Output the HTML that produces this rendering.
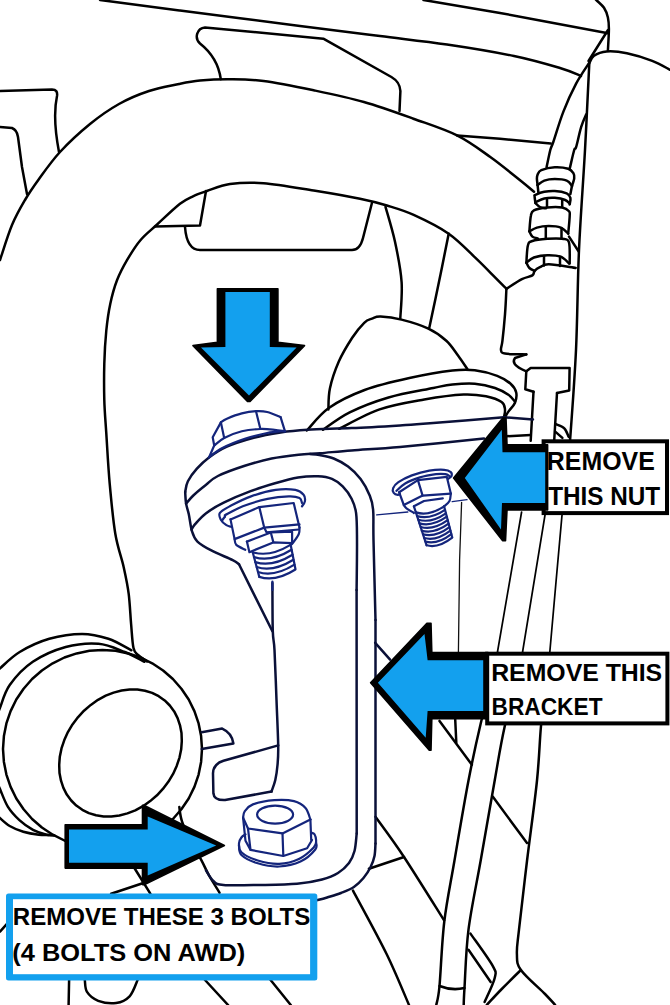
<!DOCTYPE html>
<html><head><meta charset="utf-8"><title>Bracket removal</title>
<style>
html,body{margin:0;padding:0;background:#fff;}
body{width:670px;height:1005px;overflow:hidden;position:relative;font-family:"Liberation Sans",sans-serif;}
svg{display:block;position:absolute;left:0;top:0;}
text{font-family:"Liberation Sans",sans-serif;font-weight:bold;fill:#000;}
</style></head><body>
<svg width="670" height="1005" viewBox="0 0 670 1005">
<rect width="670" height="1005" fill="#fff"/>
<g fill="none" stroke="#000" stroke-width="2.5" stroke-linecap="round" stroke-linejoin="round">
<path d="M100.0,0.0C113.3,1.8 146.7,6.2 180.0,10.5C213.3,14.8 266.7,21.8 300.0,26.0C333.3,30.2 355.5,32.9 380.0,36.0C404.5,39.1 424.7,41.2 447.0,44.5C469.3,47.8 495.2,52.1 514.0,56.0C532.8,59.9 548.8,64.7 560.0,68.0C571.2,71.3 577.5,74.7 581.0,76.0"/>
<path d="M423.5,0.0L500.0,12.9L540.0,20.4L608.0,33.2"/>
<path d="M590.0,-6.0C591.0,-5.0 594.0,-2.3 596.3,0.0C598.6,2.3 602.1,4.9 604.0,7.8C605.9,10.7 607.1,14.0 607.9,17.5C608.7,21.0 608.9,23.5 608.9,29.0C608.9,34.5 608.1,46.8 607.9,50.4"/>
<path d="M608.0,30.0L588.5,61.0"/>
<path d="M589.3,63.4C590.1,62.1 591.1,57.8 594.0,55.8C596.9,53.8 601.1,51.9 606.6,51.5C612.1,51.1 619.3,51.7 626.9,53.3C634.5,54.9 645.0,58.1 652.2,60.9C659.4,63.6 667.0,68.3 670.0,69.8"/>
<path d="M589.3,63.4C588.6,77.8 586.7,118.9 585.0,150.0C583.3,181.1 580.5,216.7 579.0,250.0C577.5,283.3 577.5,318.2 576.0,350.0C574.5,381.8 571.6,419.3 570.0,441.0C568.4,462.7 567.1,473.5 566.5,480.0"/>
<path d="M545.5,690.0C544.8,696.0 542.4,710.9 541.0,726.0C539.6,741.1 539.3,758.0 537.0,780.5C534.7,803.0 530.0,836.1 527.0,861.0C524.0,885.9 520.7,914.1 519.0,929.6C517.3,945.1 516.6,947.1 516.9,953.8C517.2,960.5 516.2,963.3 520.9,970.0C525.6,976.7 539.3,988.2 545.0,994.0C550.7,999.8 553.5,1003.2 555.2,1005.0"/>
<path d="M520.9,970.0C517.5,973.3 506.5,984.2 500.8,990.0C495.1,995.8 489.1,1002.5 486.7,1005.0"/>
<path d="M546.6,167.2C547.2,164.3 549.2,154.2 550.3,150.0C551.4,145.8 551.1,148.4 553.3,142.0C555.5,135.6 559.6,121.3 563.4,111.6C567.2,101.9 571.9,91.7 576.1,83.7C580.3,75.7 586.7,66.8 588.8,63.4"/>
<path d="M569.7,168.7C570.5,165.6 573.1,153.6 574.2,150.0C575.3,146.4 574.9,151.0 576.1,147.2C577.3,143.3 579.5,132.4 581.2,126.9C582.9,121.4 585.4,116.3 586.3,114.2"/>
<path d="M457.0,135.4L500.0,138.8L550.7,143.4"/>
<path d="M220.8,79.2C219,66 212,53 200,43.5C194,38 197,28 205,27.4L323.3,38.7L391.4,77Q400,82 400.4,91L399.5,111"/>
<path d="M0.0,260.0C2.0,254.2 7.8,235.0 12.0,225.0C16.2,215.0 20.5,207.7 25.0,200.0C29.5,192.3 33.2,187.0 39.0,179.0C44.8,171.0 51.5,161.2 60.0,152.0C68.5,142.8 80.2,132.0 90.0,124.0C99.8,116.0 109.2,109.5 119.0,104.0C128.8,98.5 139.0,94.3 149.0,91.0C159.0,87.7 170.5,85.8 179.0,84.0C187.5,82.2 191.5,81.3 200.0,80.5C208.5,79.7 219.4,79.1 230.0,79.2C240.6,79.3 249.7,79.2 263.6,81.0C277.6,82.8 297.0,86.8 313.7,90.3C330.4,93.8 347.3,97.3 363.9,102.0C380.5,106.7 397.9,113.1 413.4,118.7C428.9,124.3 444.2,129.0 457.0,135.4C469.8,141.8 479.7,149.5 490.3,157.0C500.9,164.5 513.1,174.7 520.4,180.5C527.7,186.3 531.7,189.9 534.0,191.8"/>
<path d="M147.0,661.5C145.5,660.4 140.2,657.2 138.0,655.0C135.8,652.8 134.7,653.2 133.5,648.0C132.3,642.8 131.9,633.0 131.1,624.0C130.3,615.0 129.9,603.4 128.7,593.9C127.5,584.4 125.9,577.2 123.7,567.2C121.5,557.2 117.6,547.6 115.3,533.7C113.0,519.8 111.2,500.3 109.7,483.6C108.2,466.9 107.2,447.3 106.3,433.4C105.4,419.5 104.6,411.6 104.3,400.0C104.0,388.4 104.0,375.5 104.3,363.9C104.6,352.3 105.3,340.5 106.3,330.5C107.3,320.5 108.5,312.1 110.3,303.7C112.1,295.3 114.2,287.6 117.0,280.3C119.8,273.1 123.1,266.9 127.0,260.2C130.9,253.5 135.4,246.1 140.4,240.2C145.4,234.2 150.5,230.6 157.1,224.5C163.7,218.4 174.0,208.5 180.0,203.8C186.0,199.1 188.5,198.4 193.0,196.3C197.5,194.2 200.8,193.1 207.0,191.0C213.2,188.9 220.6,185.3 230.0,184.0C239.4,182.7 249.7,182.1 263.6,183.2C277.6,184.3 297.6,188.0 313.7,190.6C329.8,193.2 347.8,196.3 360.0,198.8C372.2,201.3 377.9,202.8 386.9,205.5C395.8,208.2 403.4,210.2 413.7,214.9C424.0,219.6 438.4,226.5 448.7,233.7C459.0,240.9 467.9,250.7 475.5,257.9C483.1,265.1 489.2,271.5 494.3,276.7C499.4,281.9 504.4,286.8 506.4,288.8"/>
<path d="M0,91L52,89.5Q58,89.5 57,96C54,110 55,131 59,152"/>
<path d="M0,127L12,128Q17,130 18,137L22,167L27,194"/>
<path d="M206,191L200,225.5L155,226.5"/>
<path d="M185,227C186,240 190,250 200,250L352,250Q360,250 363,238L372,202.8"/>
<path d="M385.5,206.9C387.1,212.7 392.3,229.3 395.0,241.8C397.7,254.3 400.7,269.2 401.6,282.0C402.5,294.8 400.5,312.3 400.3,318.4"/>
<path d="M448.7,233.7C447.4,240.4 443.8,258.3 440.6,274.0C437.4,289.7 431.2,318.8 429.3,327.8"/>
<path d="M537.6,185.1C537.5,184.0 536.9,180.2 536.9,178.4C536.9,176.7 536.9,176.0 537.6,174.6C538.3,173.2 538.4,171.3 541.3,170.1C544.2,168.9 550.3,167.4 554.8,167.2C559.3,167.0 565.1,167.7 568.2,168.7C571.3,169.7 572.4,171.5 573.4,173.1C574.4,174.7 574.4,176.3 574.2,178.4C574.0,180.5 572.4,184.6 572.0,185.8"/>
<path d="M537.6,185.1C538.7,184.3 541.4,181.6 544.3,180.6C547.2,179.6 551.1,179.1 554.8,179.1C558.5,179.1 563.8,179.5 566.7,180.6C569.6,181.7 571.1,184.9 572.0,185.8"/>
<path d="M537.6,185.1L538.4,192.5"/>
<path d="M572.0,185.8L570.4,194.0"/>
<path d="M535.4,203.0C535.3,201.9 534.6,197.7 534.6,196.3C534.6,194.9 533.8,195.6 535.4,194.8C537.0,194.1 541.1,192.4 544.3,191.8C547.5,191.2 551.1,190.8 554.8,191.0C558.5,191.2 564.1,192.2 566.7,193.3C569.3,194.4 569.9,195.9 570.4,197.8C570.9,199.7 569.8,203.4 569.7,204.5"/>
<path d="M535.4,202.2C536.9,201.6 541.1,199.2 544.3,198.5C547.5,197.8 551.3,197.6 554.8,197.8C558.3,198.1 562.7,199.0 565.2,200.0C567.7,201.0 569.0,203.1 569.7,203.7"/>
<path d="M535.4,203.0C536.2,203.7 538.2,206.1 540.0,207.0C541.8,207.9 545.0,208.1 546.0,208.3"/>
<path d="M547,199.5 L547,207 M562.2,200 L562.2,207"/>
<path d="M529.4,231.3C529.6,228.7 530.1,219.2 530.9,215.7C531.6,212.2 531.2,211.8 533.9,210.4C536.6,209.0 542.6,208.0 547.3,207.5C552.0,207.0 558.6,206.9 562.2,207.5C565.8,208.1 567.8,209.8 569.0,211.2C570.2,212.6 569.8,212.0 569.7,215.7C569.6,219.4 568.5,230.6 568.2,233.6"/>
<path d="M529.4,231.3C530.6,230.7 533.7,228.5 536.9,227.6C540.1,226.7 544.8,226.1 548.8,226.1C552.8,226.1 557.5,226.3 560.7,227.6C563.9,228.8 567.0,232.6 568.2,233.6"/>
<path d="M529.4,231.3C529.9,232.2 531.0,235.4 532.4,236.6C533.8,237.8 537.1,238.3 538.0,238.6"/>
<path d="M545.8,227 L545.8,238.5 M561.5,228 L561.5,238.5"/>
<path d="M526.4,262.7C526.6,259.8 526.9,249.1 527.9,245.5C528.9,241.9 529.2,242.1 532.4,241.0C535.6,239.9 542.3,239.2 547.3,238.8C552.3,238.4 558.6,238.2 562.2,238.8C565.8,239.4 567.8,238.4 569.0,242.5C570.2,246.6 569.6,259.9 569.7,263.4"/>
<path d="M526.4,262.7C527.6,261.8 530.4,258.8 533.9,257.5C537.4,256.2 542.8,255.3 547.3,255.2C551.8,255.1 557.1,255.3 560.7,256.7C564.3,258.1 567.6,262.3 569.0,263.4"/>
<path d="M526.4,262.7C526.9,263.6 528.0,266.6 529.4,268.0C530.8,269.4 533.7,270.4 534.6,270.9"/>
<path d="M544,256 L544,265.5 M560,257 L560,266"/>
<path d="M569.0,236.6L578.7,251.5"/>
<path d="M506.4,288.8C509.0,287.2 517.6,281.3 521.9,279.1C526.2,276.9 530.3,276.8 532.4,275.4C534.5,274.0 533.4,272.3 534.6,270.9C535.9,269.5 537.5,268.3 539.9,267.2C542.3,266.1 542.8,264.1 548.8,264.2C554.8,264.3 571.2,267.3 575.7,267.9"/>
<path d="M506.4,288.8C506.2,293.1 505.7,305.6 505.0,314.3C504.3,323.0 503.1,335.2 502.4,341.2C501.7,347.1 500.6,347.9 501.0,350.0C501.4,352.1 500.8,352.9 505.0,353.6C509.2,354.3 522.8,354.3 526.3,354.4"/>
<path d="M526.3,354.4 L515,358 C512,362 514,366 526.3,371.3"/>
<path d="M526.3,371.3 L530.7,368 L569.6,368 L569.2,390.5 L557,393"/>
<path d="M526.3,371.3 L525.3,389.2 L533.5,391.8"/>
<path d="M533.5,391.8L530.7,440.7"/>
<path d="M557.0,393.0L554.2,440.7"/>
<path d="M328.4,409.4C328.6,405.9 328.2,396.5 329.9,388.5C331.6,380.5 335.1,370.1 338.8,361.6C342.5,353.2 348.0,344.3 352.2,337.8C356.4,331.3 360.9,326.0 364.2,322.8C367.5,319.6 369.3,319.6 372.0,318.6C374.7,317.6 375.7,316.4 380.6,316.6C385.5,316.8 393.5,317.6 401.5,319.6C409.5,321.6 420.9,325.1 428.4,328.6C435.9,332.1 441.3,336.2 446.3,340.7C451.3,345.2 454.6,350.9 458.2,355.7C461.8,360.5 466.0,367.2 467.6,369.5"/>
<path d="M306.9,430.5C310.5,426.8 319.2,414.8 328.8,408.0C338.4,401.2 351.2,395.0 364.6,390.0C378.0,385.0 394.8,381.2 409.4,378.0C424.0,374.8 441.5,371.8 452.4,370.5C463.3,369.2 467.3,369.3 474.8,370.2C482.3,371.1 491.2,373.6 497.2,375.8C503.2,378.1 507.4,380.9 510.6,383.7C513.8,386.5 515.5,389.4 516.2,392.6C516.9,395.8 516.3,399.5 515.0,402.7C513.7,405.9 510.1,409.2 508.4,411.6C506.7,414.0 505.6,416.3 505.0,417.2"/>
<path d="M323.0,429.8C327.4,426.9 338.8,417.8 349.7,412.4C360.6,407.0 374.6,401.6 388.5,397.5C402.4,393.4 422.7,390.2 433.3,388.0C443.9,385.8 445.5,385.2 452.4,384.5C459.3,383.8 467.7,383.1 474.8,383.7C481.9,384.3 489.4,386.1 495.0,388.0C500.6,389.9 505.1,392.5 508.4,394.8C511.7,397.1 513.9,400.5 515.0,401.6"/>
<path d="M339.0,428.8C345.8,425.6 365.4,414.3 379.6,409.4C393.8,404.5 410.3,402.0 424.3,399.5C438.3,397.0 453.3,395.0 463.6,394.5C473.9,394.0 479.7,395.1 486.0,396.3C492.3,397.6 498.4,399.8 501.6,402.0C504.8,404.2 504.6,406.9 505.0,409.4C505.4,411.9 504.2,415.9 504.0,417.2"/>
<path d="M555.4,424.0C556.9,424.7 562.1,426.2 564.3,428.4C566.5,430.6 568.0,435.6 568.8,437.0"/>
<path d="M506.0,436.3L530.7,435.0"/>
<path d="M555.2,431.6L562.4,437.9"/>
<path d="M-3.0,672.0C-2.5,671.4 -3.8,671.7 0.0,668.4C3.8,665.1 11.5,656.9 19.7,652.0C27.9,647.1 38.9,641.8 49.3,638.8C59.7,635.8 72.2,633.9 82.1,633.9C91.9,633.9 100.2,636.1 108.4,638.8C116.6,641.5 127.6,648.4 131.4,650.3"/>
<path d="M-3.0,716.0C-2.5,714.6 -2.1,713.0 0.0,707.8C2.1,702.6 4.4,692.5 9.9,684.8C15.4,677.1 23.5,668.1 32.8,661.8C42.1,655.5 54.8,650.0 65.7,647.0C76.7,644.0 88.7,642.9 98.5,643.7C108.3,644.5 117.1,649.0 124.8,652.0C132.5,655.0 141.2,660.2 144.5,661.8"/>
<path d="M-3.0,782.0C-2.5,783.2 -1.8,785.0 0.0,789.1C1.8,793.2 4.6,801.4 7.8,806.6C11.0,811.8 15.2,816.2 19.4,820.1C23.6,824.0 28.5,827.4 33.0,829.8C37.5,832.2 43.1,833.8 46.6,834.7C50.1,835.7 53.0,835.4 54.3,835.5"/>
<path d="M-3.0,815.0C-2.5,815.5 -2.1,816.4 0.0,818.2C2.1,820.0 5.8,823.7 9.7,826.0C13.6,828.3 18.5,830.3 23.3,831.8C28.1,833.2 34.6,834.2 38.8,834.7C43.0,835.2 46.9,835.0 48.5,835.0"/>
<path d="M202.0,749.0L201.1,761.9L198.6,774.6L194.4,786.9L188.7,798.5L181.4,809.3L172.9,819.0L163.1,827.5L152.2,834.7L140.6,840.5L128.3,844.6L115.5,847.2L102.5,848.0L89.5,847.2L76.7,844.6L64.4,840.5L52.8,834.7L41.9,827.5L32.1,819.0L23.6,809.3L16.3,798.5L10.6,786.9L6.4,774.6L3.9,761.9L3.0,749.0L3.9,736.1L6.4,723.4L10.6,711.1L16.3,699.5L23.6,688.7L32.1,679.0L41.9,670.5L52.7,663.3L64.4,657.5L76.7,653.4L89.5,650.8L102.5,650.0L115.5,650.8L128.3,653.4L140.6,657.5L152.2,663.3L163.1,670.5L172.9,679.0L181.4,688.7L188.7,699.5L194.4,711.1L198.6,723.4L201.1,736.1L202.0,749.0Z"/>
<path d="M163.1,788.7L157.0,795.3L150.2,801.1L143.0,806.2L135.3,810.3L127.4,813.4L119.4,815.5L111.4,816.5L103.6,816.4L96.0,815.3L88.9,813.1L82.3,809.8L76.3,805.6L71.2,800.5L66.8,794.6L63.4,787.9L61.0,780.7L59.5,773.0L59.2,764.9L59.8,756.7L61.5,748.4L64.3,740.1L67.9,732.1L72.5,724.4L77.9,717.3L84.0,710.7L90.8,704.9L98.0,699.8L105.7,695.7L113.6,692.6L121.6,690.5L129.6,689.5L137.4,689.6L145.0,690.7L152.1,692.9L158.7,696.2L164.7,700.4L169.8,705.5L174.2,711.4L177.6,718.1L180.0,725.3L181.5,733.0L181.8,741.1L181.2,749.3L179.5,757.6L176.7,765.9L173.1,773.9L168.5,781.6L163.1,788.7Z"/>
<path d="M111.1,893.8L143.4,883.0"/>
<path d="M134.4,868.0L150.5,893.8"/>
<path d="M179.3,806.9C179.7,809.3 180.1,815.7 181.9,821.2C183.7,826.7 186.7,833.4 190.0,840.0C193.3,846.6 198.5,854.8 201.6,860.6C204.7,866.4 205.8,869.6 208.8,875.0C211.8,880.4 217.8,889.8 219.6,892.8"/>
<path d="M69.1,980.0L68.6,1005.0"/>
<path d="M84.8,980.0C85.2,982.0 84.8,988.4 87.0,991.9C89.2,995.4 93.4,998.9 98.2,1000.8C103.0,1002.6 110.9,1003.8 116.1,1003.0C121.3,1002.2 126.0,1000.1 129.6,996.3C133.2,992.5 136.3,982.7 137.6,980.0"/>
<path d="M0.0,931.6L6.7,924.2"/>
<path d="M375.5,816.8C380.2,823.5 392.6,839.7 404.0,857.0C415.4,874.3 437.4,909.8 444.1,920.4"/>
<path d="M404.0,857.0L368.9,868.7"/>
<path d="M353.0,890.6C358.6,901.2 377.3,934.9 386.6,954.0C395.9,973.1 405.3,996.5 409.0,1005.0"/>
<path d="M270.6,980.0L290.8,1005.0"/>
<path d="M205.0,980.0L228.1,1005.0"/>
<path d="M498.7,653.0C495.7,664.8 485.6,702.8 480.6,724.0C475.6,745.2 472.9,757.7 468.5,780.5C464.1,803.3 458.4,837.5 454.4,861.0C450.4,884.5 446.8,900.7 444.3,921.5C441.8,942.3 440.8,972.1 439.5,986.0C438.2,999.9 436.8,1001.8 436.3,1005.0"/>
<path d="M523.0,653.0C520.0,665.2 509.5,704.8 504.8,726.0C500.1,747.2 498.7,758.0 494.7,780.5C490.7,803.0 485.0,836.1 480.6,861.0C476.2,885.9 471.2,908.4 468.5,929.6C465.8,950.8 465.3,975.4 464.5,988.0C463.7,1000.6 463.8,1002.2 463.7,1005.0"/>
<path d="M439.5,986 Q452,991 464.5,988"/>
<path d="M492.7,796.6L527.0,843.0"/>
<path d="M439.5,720.9L471.9,764.8"/>
<path d="M455.2,719.0L456.3,742.5"/>
<path d="M470.5,933.6C474.2,939.0 488.7,958.5 492.7,965.9C496.7,973.3 496.0,972.0 494.7,978.0C493.4,984.0 486.3,998.0 484.6,1002.0"/>
<path d="M468.5,949.7L490.7,982.0"/>
<g stroke="#0a1038"><path d="M185.2,492.0C185.6,490.2 185.9,485.1 187.9,481.2C189.9,477.3 193.4,472.6 196.9,468.7C200.4,464.8 204.0,461.2 209.0,457.5C214.0,453.8 219.5,450.0 226.9,446.7C234.3,443.4 244.8,440.2 253.7,437.8C262.6,435.4 271.6,433.8 280.6,432.4C289.6,431.0 295.7,430.4 307.5,429.7C319.3,429.0 336.2,428.8 351.6,428.1C367.0,427.4 386.9,426.2 400.0,425.4C413.1,424.6 412.7,424.7 430.0,423.3C447.3,421.9 491.7,418.2 504.0,417.2"/><path d="M504.0,417.2L533.0,419.5"/><path d="M186.1,503.6C187.3,502.2 190.0,498.6 193.3,495.5C196.6,492.4 201.7,488.2 205.8,485.0C209.9,481.8 211.4,479.2 217.9,476.0C224.4,472.8 235.9,468.7 244.8,465.8C253.8,462.9 262.7,460.4 271.6,458.6C280.6,456.8 290.4,455.7 298.5,454.8C306.6,453.9 311.1,453.9 320.0,453.2C328.9,452.5 338.3,451.4 351.6,450.4C364.9,449.3 377.9,448.9 400.0,446.9C422.1,444.9 470.0,439.9 484.0,438.5"/><path d="M310.0,454.0C311.6,454.2 315.4,454.2 319.4,455.0C323.3,455.8 328.9,456.6 333.7,458.5C338.5,460.4 343.6,463.2 348.1,466.6C352.6,470.0 357.0,474.3 360.6,479.1C364.2,483.9 367.5,490.1 369.6,495.2C371.7,500.3 372.5,502.1 373.1,509.6C373.8,517.1 373.1,521.6 373.5,540.0C373.9,558.4 375.2,606.7 375.5,620.0"/><path d="M185.2,492.0C185.3,493.9 185.5,499.9 186.1,503.6C186.7,507.3 187.8,509.7 188.8,514.2C189.8,518.8 190.5,526.4 191.9,530.9C193.3,535.4 193.9,538.0 197.2,541.3C200.5,544.6 205.9,547.6 211.8,550.7C217.7,553.8 228.2,557.8 232.7,560.1C237.2,562.4 237.9,563.6 239.0,564.3"/><path d="M239.0,564.3L253.6,593.6L272.4,631.2"/><path d="M191.5,529.6C192.1,528.7 192.7,526.9 195.1,524.2C197.5,521.5 201.0,517.0 205.8,513.4C210.6,509.8 216.2,506.4 223.7,502.7C231.2,499.0 242.0,494.4 250.6,491.2C259.1,488.0 267.1,485.6 275.0,483.3C282.9,481.0 290.8,478.7 298.0,477.5C305.2,476.3 312.3,476.0 318.0,476.2C323.7,476.4 327.9,477.1 332.0,478.8C336.1,480.5 339.4,483.0 342.7,486.3C346.0,489.6 349.4,494.3 351.6,498.8C353.8,503.3 355.2,506.2 356.1,513.1C357.0,520.0 356.9,527.2 357.0,540.0C357.1,552.8 356.7,581.7 356.6,590.0"/><path d="M375.5,620.0L375.5,843.6"/><path d="M356.6,590.0L356.7,833.6"/><path d="M356.7,833.6C356.3,836.5 355.8,846.1 354.5,851.0C353.2,855.9 351.8,859.3 349.0,863.0C346.2,866.7 342.5,870.2 338.0,873.0C333.5,875.8 328.8,877.7 322.0,879.5C315.2,881.3 307.3,882.9 297.0,883.8C286.7,884.7 272.2,884.8 260.0,885.0C247.8,885.2 231.3,885.7 223.5,885.0C215.7,884.3 216.3,883.5 213.4,881.0C210.5,878.5 207.2,872.1 206.0,870.3"/><path d="M375.5,843.6C375.3,845.7 375.3,852.1 374.5,856.0C373.7,859.9 372.4,863.3 370.6,867.0C368.8,870.7 366.3,874.7 363.5,878.0C360.7,881.3 357.6,884.5 353.9,887.0C350.1,889.5 345.5,891.2 341.0,893.0C336.5,894.8 331.3,896.2 327.1,897.5C322.9,898.8 317.9,900.0 316.0,900.5"/><path d="M278.2,745.4 L223.5,760.8 Q213.2,764 213,773.4 L213.4,793.4 Q214,800.5 225.1,800.1 L271.5,791.5"/><path d="M272.4,583.0C272.5,591.0 272.4,620.0 272.8,631.2C273.2,642.4 273.9,638.5 274.5,650.0C275.1,661.5 275.9,684.1 276.5,700.0C277.1,715.9 278.0,734.6 278.2,745.4C278.4,756.2 278.0,759.2 277.5,765.0C277.0,770.8 276.3,775.6 275.3,780.0C274.3,784.4 272.1,789.6 271.5,791.5"/><path d="M201.7,732.3 L222.2,728.6 Q232,733 233.4,743.5 L201.7,749"/><path d="M375.2,642.8L390.1,659.6"/></g>
<g stroke-width="1.7"><path d="M566.5,480.0C565.7,486.2 564.6,488.9 561.8,517.4C559.0,545.9 552.6,622.2 549.9,651.0C547.2,679.8 546.2,683.5 545.5,690.0"/><path d="M521.6,512.0L497.3,653.0"/><path d="M545.5,512.0L522.4,653.0"/></g>
</g>
<g fill="none" stroke="#14257c" stroke-width="2.2" stroke-linecap="round" stroke-linejoin="round">
<path d="M220.9,422.4C221.9,421.8 223.4,420.2 226.9,418.7C230.4,417.2 237.0,414.6 241.8,413.4C246.7,412.1 251.8,411.4 256.0,411.2C260.2,411.0 263.1,411.0 267.2,412.0C271.3,413.0 278.4,416.3 280.6,417.2"/>
<path d="M220.9,422.4L212.7,437.3L214.2,445.5"/>
<path d="M220.9,422.4L224.2,438.0"/>
<path d="M256.0,411.2L260.4,429.0"/>
<path d="M280.6,417.2L285.0,431.3"/>
<path d="M214.2,445.5C215.9,444.2 219.6,440.4 224.2,438.0C228.8,435.6 235.8,432.8 241.8,431.3C247.8,429.8 254.9,429.2 260.4,429.0C265.9,428.8 270.5,429.4 274.6,429.8C278.7,430.2 283.3,431.1 285.0,431.3"/>
<path d="M214.2,445.5L209.0,457.5"/>
<path d="M209.0,457.2C211.2,455.7 216.4,451.1 222.4,448.0C228.4,444.9 237.3,441.3 244.8,438.8C252.3,436.3 260.5,434.3 267.2,433.0C273.9,431.7 282.0,431.2 285.0,430.8"/>
<path d="M231.3,526.8C230.5,526.5 228.2,526.4 226.4,525.2C224.6,524.0 221.8,521.5 220.7,519.4C219.6,517.3 218.4,515.0 219.9,512.8C221.4,510.6 224.5,509.0 229.7,506.3C234.9,503.6 243.3,499.1 251.0,496.4C258.7,493.7 268.3,491.0 275.7,489.9C283.1,488.8 290.8,489.1 295.4,489.9C300.0,490.7 302.0,492.9 303.6,494.8C305.2,496.7 305.2,499.4 304.9,501.3C304.6,503.2 302.5,505.5 302.0,506.3"/>
<path d="M224.8,515.3C227.8,513.8 235.7,509.0 242.8,506.3C249.9,503.6 259.8,500.5 267.5,498.9C275.2,497.2 283.5,496.5 288.8,496.4C294.1,496.2 297.3,496.9 299.5,498.0C301.7,499.1 301.6,502.2 302.0,503.0"/>
<path d="M222.0,520.5L225.0,516.5"/>
<path d="M230.5,519.4L259.3,507.1L293.7,503.0L299.5,527.6"/>
<path d="M259.3,507.1L264.2,527.6"/>
<path d="M230.5,519.4L234.6,539.1L264.2,527.6L299.5,524.3"/>
<path d="M264.2,527.6L266.5,532.3L298.9,529.5"/>
<path d="M234.6,539.1C234.9,540.1 234.5,543.1 236.3,544.9C238.1,546.7 243.8,549.0 245.3,549.8"/>
<path d="M299.5,527.6C299.4,528.7 299.9,531.5 298.7,534.2C297.5,536.9 293.2,542.4 292.1,544.0"/>
<path d="M246.9,541.6L270.8,532.5L292.1,531.7L292.1,542.4"/>
<path d="M246.9,541.6L249.4,552.2L273.2,542.4L292.1,543.2"/>
<path d="M270.8,532.5L273.2,541.6"/>
<path d="M252.7,552.2L259.3,576.9"/>
<path d="M290.5,544.0L295.4,568.7"/>
<path d="M252.7,552.2 Q269.6,557.5 290.5,544.9"/>
<path d="M254.0,557.1 Q270.8,562.5 291.5,549.8"/>
<path d="M255.3,562.1 Q271.9,567.4 292.5,554.7"/>
<path d="M256.7,567.0 Q273.0,572.3 293.4,559.7"/>
<path d="M258.0,572.0 Q274.2,577.3 294.4,564.6"/>
<path d="M259.3,576.9 Q275.4,582.2 295.4,569.5"/>
<path d="M272.4,581.5L272.4,590.0"/>
<path d="M399.8,493.6C399.5,493.8 398.8,495.0 397.8,494.9C396.8,494.8 394.5,494.0 393.7,492.9C392.9,491.8 392.3,490.0 393.1,488.2C393.9,486.4 395.3,484.3 398.4,482.2C401.5,480.1 406.8,477.3 411.9,475.4C417.0,473.5 423.9,471.6 429.3,470.7C434.7,469.8 440.5,469.6 444.1,469.8C447.7,470.0 449.6,471.1 450.8,472.1C452.0,473.2 451.9,475.0 451.5,476.1C451.1,477.2 448.7,478.4 448.1,478.8"/>
<path d="M396.4,490.9C397.9,489.7 401.3,485.8 405.2,483.5C409.1,481.2 414.8,479.0 419.9,477.4C425.0,475.8 431.7,474.7 436.0,474.1C440.3,473.6 443.2,473.8 445.5,474.1C447.8,474.4 448.8,475.8 449.5,476.1"/>
<path d="M399.1,492.2L417.9,480.1L446.8,476.8L450.8,493.6"/>
<path d="M417.9,480.1L422.6,495.6"/>
<path d="M399.1,492.2L403.8,505.0L422.6,495.6L450.8,493.6"/>
<path d="M403.8,505.0C404.2,505.6 404.8,507.0 406.5,508.3C408.2,509.6 412.7,512.2 413.9,513.0"/>
<path d="M450.8,493.6C450.6,494.8 450.6,498.9 449.5,501.0C448.4,503.1 445.0,505.4 444.1,506.3"/>
<path d="M413.9,506.3L424.0,501.0L442.8,498.3"/>
<path d="M413.9,506.3L415.9,512.4"/>
<path d="M415.9,512.4L426.6,545.3"/>
<path d="M444.1,506.3L452.2,537.2"/>
<path d="M415.9,512.4 Q429.0,516.4 444.1,506.3"/>
<path d="M417.1,516.1 Q430.0,519.9 445.0,509.8"/>
<path d="M418.3,519.7 Q431.1,523.5 445.9,513.3"/>
<path d="M419.5,523.4 Q432.1,527.0 446.8,516.7"/>
<path d="M420.7,527.0 Q433.2,530.6 447.7,520.2"/>
<path d="M421.8,530.7 Q434.2,534.2 448.6,523.7"/>
<path d="M423.0,534.3 Q435.3,537.8 449.5,527.2"/>
<path d="M424.2,538.0 Q436.3,541.3 450.4,530.6"/>
<path d="M425.4,541.6 Q437.4,544.9 451.3,534.1"/>
<path d="M426.6,545.3 Q438.4,548.5 452.2,537.6"/>
<path d="M243.1,817.8C243.4,816.7 243.1,813.5 244.7,811.3C246.3,809.1 248.0,806.3 252.9,804.4C257.8,802.5 267.4,800.6 274.3,800.1C281.2,799.6 288.8,799.8 294.0,801.1C299.2,802.4 302.8,804.9 305.5,808.0C308.2,811.1 309.6,817.6 310.4,819.5"/>
<path d="M310.4,819.5L282.5,833.4L248.0,828.5L243.1,817.8"/>
<path d="M257.1,814.6 a18,9 0 1 0 36,0 a18,9 0 1 0 -36,0"/>
<path d="M248.0,828.5L250.5,849.9"/>
<path d="M282.5,833.4L283.3,855.6"/>
<path d="M310.4,819.5L311.2,840.0"/>
<path d="M243.1,817.8L245.5,840.8L250.5,849.9L283.3,856.0L307.1,848.2L312.0,840.0"/>
<path d="M245.5,834.3C244.8,834.8 242.5,836.0 241.4,837.5C240.3,839.0 239.0,840.8 239.0,843.3C239.0,845.8 238.3,849.4 241.4,852.3C244.5,855.2 251.5,858.6 257.8,860.5C264.1,862.4 272.4,864.1 279.2,863.8C286.0,863.5 293.1,861.6 298.9,858.9C304.6,856.2 310.8,850.4 313.7,847.4C316.6,844.4 316.0,843.0 316.1,840.8C316.2,838.6 315.3,835.7 314.5,834.3C313.7,832.9 311.8,832.9 311.2,832.6"/>
<path d="M239.0,845.5C239.4,847.1 238.3,852.0 241.4,855.0C244.5,858.0 251.5,861.4 257.8,863.3C264.1,865.2 272.1,866.8 279.2,866.5C286.3,866.2 294.5,864.4 300.5,861.6C306.5,858.8 312.7,852.7 315.3,849.5C317.9,846.3 316.0,843.7 316.1,842.5"/>
<path stroke-width="1.4" d="M376.7,514.9L407.8,512M452.2,501.6L467,499.6"/>
<path stroke="#111" stroke-width="1.3" d="M461.6,502.3L459.6,560L458.4,653"/>
</g>
<polygon points="217.4,288.8 277.9,288.8 277.9,342.2 304.5,345.6 250.0,401.5 247.5,401.5 193.0,345.6 217.4,342.2" fill="#000" stroke="#000" stroke-width="1.6" stroke-linejoin="round"/>
<polygon points="225.4,292.0 269.8,292.0 269.8,347.0 296.6,347.6 249.0,395.4 201.0,347.6 225.4,347.0" fill="#13a0ee"/>
<rect x="543.6" y="441.3" width="123.4" height="71.8" fill="#fff" stroke="#000" stroke-width="4"/>
<rect x="487.2" y="653.7" width="180.2" height="69.7" fill="#fff" stroke="#000" stroke-width="4"/>
<rect x="6" y="893.4" width="311.3" height="87.1" rx="2.5" fill="#13a0ee"/>
<rect x="13" y="899.2" width="297.1" height="75" fill="#fff"/>
<polygon points="453.6,477.9 502.8,418.0 506.0,418.0 507.0,444.8 547.6,444.8 547.6,510.0 507.0,510.0 505.5,540.6 502.5,540.6" fill="#000" stroke="#000" stroke-width="1.6" stroke-linejoin="round"/>
<polygon points="464.8,477.9 501.8,429.8 502.5,452.3 545.2,452.3 545.2,502.9 502.0,502.9 501.0,529.5" fill="#13a0ee"/>
<polygon points="370.6,682.8 426.9,623.2 431.0,623.2 431.8,652.6 488.0,652.6 488.0,718.6 431.8,718.6 431.0,750.2 429.3,750.2" fill="#000" stroke="#000" stroke-width="1.6" stroke-linejoin="round"/>
<polygon points="377.9,682.8 424.5,633.9 427.6,660.2 483.2,660.2 483.2,711.0 427.6,711.0 425.7,737.8" fill="#13a0ee"/>
<polygon points="224.4,845.5 144.3,805.4 142.5,805.4 142.5,824.8 65.2,824.8 65.2,868.1 142.5,868.1 142.5,884.6 144.6,884.6" fill="#000" stroke="#000" stroke-width="1.6" stroke-linejoin="round"/>
<polygon points="216.2,845.5 147.7,816.5 147.7,829.4 69.0,829.4 69.0,862.7 147.7,862.7 147.7,875.6" fill="#13a0ee"/>
<text x="546.8" y="469.6" font-size="26.0" textLength="108" lengthAdjust="spacingAndGlyphs">REMOVE</text>
<text x="548.2" y="504.5" font-size="26.0" textLength="112" lengthAdjust="spacingAndGlyphs">THIS NUT</text>
<text x="491.2" y="681.2" font-size="24.2" textLength="171" lengthAdjust="spacingAndGlyphs">REMOVE THIS</text>
<text x="491.5" y="715.3" font-size="24.2" textLength="111" lengthAdjust="spacingAndGlyphs">BRACKET</text>
<text x="12.8" y="925.2" font-size="24.4" textLength="297.5" lengthAdjust="spacingAndGlyphs">REMOVE THESE 3 BOLTS</text>
<text x="12.3" y="960.8" font-size="24.4" textLength="233" lengthAdjust="spacingAndGlyphs">(4 BOLTS ON AWD)</text>
</svg>
</body></html>
